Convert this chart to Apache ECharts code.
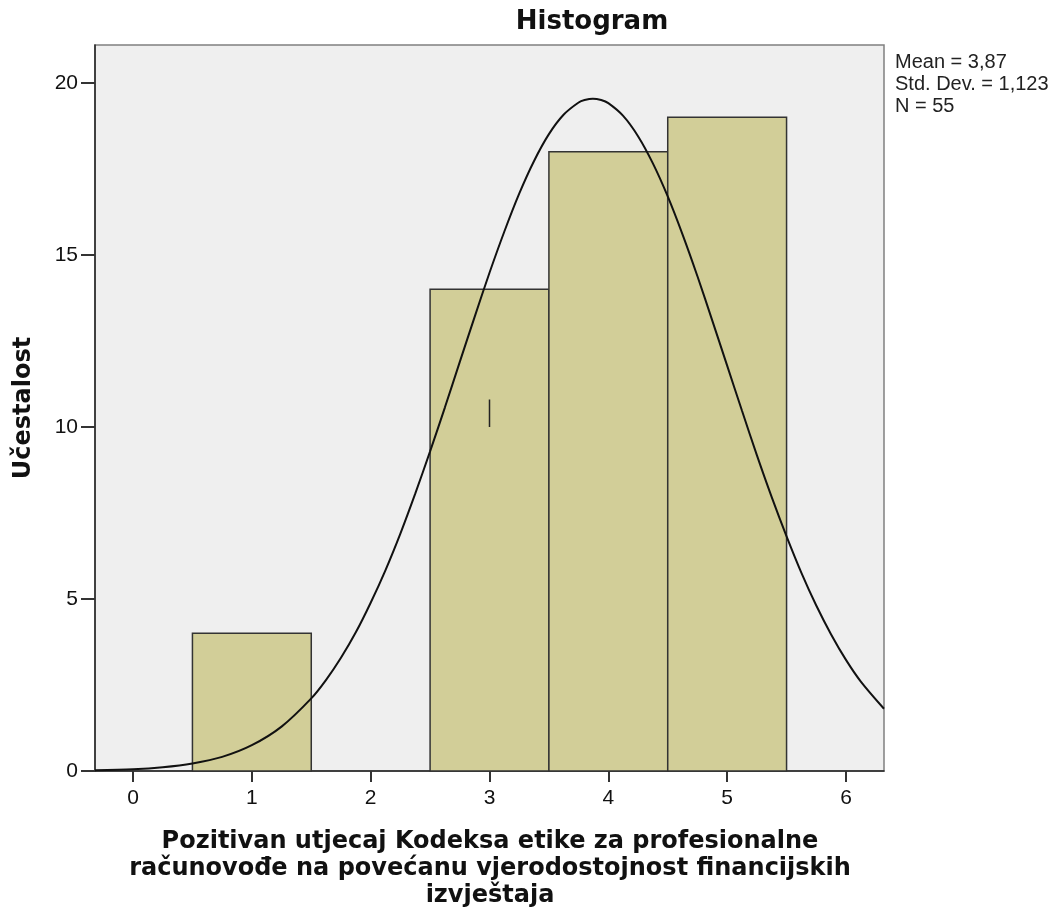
<!DOCTYPE html>
<html lang="hr">
<head>
<meta charset="UTF-8">
<title>Histogram</title>
<script src="https://cdn.jsdelivr.net/npm/echarts@6.0.0/dist/echarts.min.js"></script>
<style>
  html, body { margin: 0; padding: 0; background: #fff; }
  #chart { width: 1059px; height: 917px; }
</style>
</head>
<body>
<div id="chart"></div>
<script>
// histogram bins (centre of bin, frequency)
const binCenters = [1, 2, 3, 4, 5];
const binCounts = [4, 0, 14, 18, 19];

// normal curve
const curveX = [-0.32, 0, 0.25, 0.5, 0.75, 1, 1.25, 1.5, 1.625, 1.75, 1.875, 2, 2.125, 2.25, 2.375, 2.5, 2.625, 2.75, 2.875, 3, 3.125, 3.25, 3.375, 3.5, 3.625, 3.75, 3.8, 3.87, 3.94, 4, 4.125, 4.25, 4.375, 4.5, 4.625, 4.75, 4.875, 5, 5.125, 5.25, 5.375, 5.5, 5.625, 5.75, 5.875, 6, 6.125, 6.32];
const curveY = [0.02, 0.05, 0.11, 0.22, 0.41, 0.75, 1.29, 2.11, 2.65, 3.29, 4.03, 4.89, 5.84, 6.9, 8.06, 9.29, 10.57, 11.89, 13.2, 14.48, 15.68, 16.78, 17.73, 18.51, 19.08, 19.43, 19.5, 19.54, 19.5, 19.41, 19.04, 18.45, 17.66, 16.7, 15.59, 14.38, 13.09, 11.78, 10.47, 9.18, 7.96, 6.82, 5.76, 4.81, 3.97, 3.23, 2.6, 1.81];

// small stray mark inside the bar at 3
const markX = [3, 3];
const markY = [10, 10.8];

const xTicks = [0, 1, 2, 3, 4, 5, 6];
const yTicks = [0, 5, 10, 15, 20];

const statsLines = ['Mean = 3,87', 'Std. Dev. = 1,123', 'N = 55'];
const xTitleLines = [
  'Pozitivan utjecaj Kodeksa etike za profesionalne',
  'računovođe na povećanu vjerodostojnost financijskih',
  'izvještaja'
];

const chart = echarts.init(document.getElementById('chart'), null, { renderer: 'canvas' });

const barData = binCenters.map((c, i) => [c, binCounts[i]]);
const curveData = curveX.map((x, i) => [x, curveY[i]]);
const markData = markX.map((x, i) => [x, markY[i]]);

const option = {
  backgroundColor: '#ffffff',
  animation: false,
  grid: {
    left: 95, right: 175, top: 45, bottom: 146,
    show: true,
    backgroundColor: '#efefef',
    borderColor: '#808080',
    borderWidth: 1.5
  },
  xAxis: {
    type: 'value',
    min: -0.32,
    max: 6.32,
    splitLine: { show: false },
    axisLine: { show: true, onZero: false, lineStyle: { color: '#222', width: 1.5 } },
    axisTick: { show: true, length: 11, customValues: xTicks, lineStyle: { color: '#333', width: 2 } },
    axisLabel: {
      customValues: xTicks,
      margin: 17,
      fontFamily: 'Liberation Sans',
      fontSize: 21,
      color: '#111'
    }
  },
  yAxis: {
    type: 'value',
    min: 0,
    max: 21.1,
    splitLine: { show: false },
    axisLine: { show: true, onZero: false, lineStyle: { color: '#222', width: 1.5 } },
    axisTick: { show: true, length: 14, customValues: yTicks, lineStyle: { color: '#333', width: 2 } },
    axisLabel: {
      customValues: yTicks,
      margin: 17,
      fontFamily: 'Liberation Sans',
      fontSize: 21,
      color: '#111'
    }
  },
  series: [
    {
      type: 'custom',
      data: barData,
      z: 2,
      renderItem: function (params, api) {
        const x = api.value(0);
        const y = api.value(1);
        if (!y) return null;
        const p0 = api.coord([x - 0.5, y]);
        const p1 = api.coord([x + 0.5, 0]);
        return {
          type: 'rect',
          shape: { x: p0[0], y: p0[1], width: p1[0] - p0[0], height: p1[1] - p0[1] },
          style: { fill: '#d2ce98', stroke: '#333', lineWidth: 1.5 }
        };
      }
    },
    {
      type: 'line',
      data: curveData,
      smooth: 0.3,
      symbol: 'none',
      z: 3,
      lineStyle: { color: '#111', width: 2 }
    },
    {
      type: 'line',
      data: markData,
      symbol: 'none',
      z: 3,
      lineStyle: { color: '#222', width: 1.5 }
    }
  ],
  graphic: [
    {
      type: 'text',
      x: 592, y: 22,
      style: {
        text: 'Histogram',
        align: 'center', verticalAlign: 'middle',
        fontFamily: 'DejaVu Sans', fontWeight: 'bold', fontSize: 26,
        fill: '#111'
      }
    },
    {
      type: 'text',
      x: 895, y: 51,
      style: {
        text: statsLines.join('\n'),
        align: 'left', verticalAlign: 'top',
        fontFamily: 'Liberation Sans', fontSize: 20, lineHeight: 22,
        fill: '#222'
      }
    },
    {
      type: 'text',
      x: 24, y: 408,
      rotation: Math.PI / 2,
      style: {
        text: 'Učestalost',
        align: 'center', verticalAlign: 'middle',
        fontFamily: 'DejaVu Sans', fontWeight: 'bold', fontSize: 24,
        fill: '#111'
      }
    },
    {
      type: 'text',
      x: 490, y: 828,
      style: {
        text: xTitleLines.join('\n'),
        align: 'center', verticalAlign: 'top',
        fontFamily: 'DejaVu Sans', fontWeight: 'bold', fontSize: 24, lineHeight: 27,
        fill: '#111'
      }
    }
  ]
};

chart.setOption(option);
</script>
</body>
</html>
